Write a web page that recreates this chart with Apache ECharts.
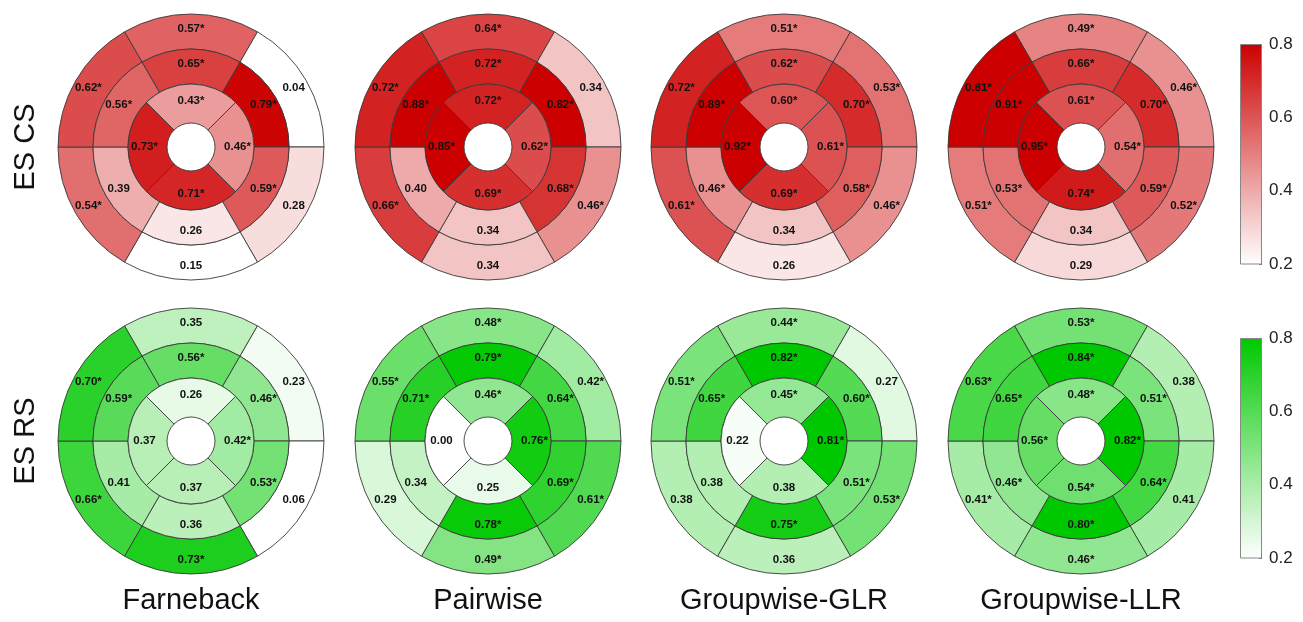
<!DOCTYPE html>
<html>
<head>
<meta charset="utf-8">
<script src="https://cdn.jsdelivr.net/npm/echarts@6/dist/echarts.min.js"></script>
<style>
  html, body { margin: 0; padding: 0; background: #fff; }
  #chart { width: 1303px; height: 622px; }
</style>
</head>
<body>
<div id="chart"></div>
<script>
// Bullseye maps: 16 segments each.
// Order: basal ring (6, clockwise from top), mid ring (6, clockwise from top),
// apical ring (4: top, right, bottom, left).
const methods = ['Farneback', 'Pairwise', 'Groupwise-GLR', 'Groupwise-LLR'];
const rowNames = ['ES CS', 'ES RS'];
const colorTicks = [0.2, 0.4, 0.6, 0.8];

const csFarneback = [0.57, 0.04, 0.28, 0.15, 0.54, 0.62,  0.65, 0.79, 0.59, 0.26, 0.39, 0.56,  0.43, 0.46, 0.71, 0.73];
const csPairwise  = [0.64, 0.34, 0.46, 0.34, 0.66, 0.72,  0.72, 0.82, 0.68, 0.34, 0.40, 0.88,  0.72, 0.62, 0.69, 0.85];
const csGLR       = [0.51, 0.53, 0.46, 0.26, 0.61, 0.72,  0.62, 0.70, 0.58, 0.34, 0.46, 0.89,  0.60, 0.61, 0.69, 0.92];
const csLLR       = [0.49, 0.46, 0.52, 0.29, 0.51, 0.81,  0.66, 0.70, 0.59, 0.34, 0.53, 0.91,  0.61, 0.54, 0.74, 0.95];

const rsFarneback = [0.35, 0.23, 0.06, 0.73, 0.66, 0.70,  0.56, 0.46, 0.53, 0.36, 0.41, 0.59,  0.26, 0.42, 0.37, 0.37];
const rsPairwise  = [0.48, 0.42, 0.61, 0.49, 0.29, 0.55,  0.79, 0.64, 0.69, 0.78, 0.34, 0.71,  0.46, 0.76, 0.25, 0.00];
const rsGLR       = [0.44, 0.27, 0.53, 0.36, 0.38, 0.51,  0.82, 0.60, 0.51, 0.75, 0.38, 0.65,  0.45, 0.81, 0.38, 0.22];
const rsLLR       = [0.53, 0.38, 0.41, 0.46, 0.41, 0.63,  0.84, 0.51, 0.64, 0.80, 0.46, 0.65,  0.48, 0.82, 0.54, 0.56];

// 1 = statistically significant (drawn with an asterisk)
const csFarnebackSig = [1, 0, 0, 0, 1, 1,  1, 1, 1, 0, 0, 1,  1, 1, 1, 1];
const csPairwiseSig  = [1, 0, 1, 0, 1, 1,  1, 1, 1, 0, 0, 1,  1, 1, 1, 1];
const csGLRSig       = [1, 1, 1, 0, 1, 1,  1, 1, 1, 0, 1, 1,  1, 1, 1, 1];
const csLLRSig       = [1, 1, 1, 0, 1, 1,  1, 1, 1, 0, 1, 1,  1, 1, 1, 1];

const rsFarnebackSig = [0, 0, 0, 1, 1, 1,  1, 1, 1, 0, 0, 1,  0, 1, 0, 0];
const rsPairwiseSig  = [1, 1, 1, 1, 0, 1,  1, 1, 1, 1, 0, 1,  1, 1, 0, 0];
const rsGLRSig       = [1, 0, 1, 0, 0, 1,  1, 1, 1, 1, 0, 1,  1, 1, 0, 0];
const rsLLRSig       = [1, 0, 0, 1, 1, 1,  1, 1, 1, 1, 1, 1,  1, 1, 1, 1];

const rows = [
  { values: [csFarneback, csPairwise, csGLR, csLLR],
    sig: [csFarnebackSig, csPairwiseSig, csGLRSig, csLLRSig],
    top: [204, 0, 0] },
  { values: [rsFarneback, rsPairwise, rsGLR, rsLLR],
    sig: [rsFarnebackSig, rsPairwiseSig, rsGLRSig, rsLLRSig],
    top: [0, 200, 0] }
];

// layout
const centersX = [191, 488, 784, 1081];
const centersY = [147, 441];
const R = [24, 63, 98, 133];          // hole, apical, mid, basal edges
const cMin = 0.2, cMax = 0.8;
const lineColor = '#3a3a3a';
const font = 'Liberation Sans, Arial, sans-serif';

function shade(v, top) {
  const t = Math.max(0, Math.min(1, (v - cMin) / (cMax - cMin)));
  const c = top.map(k => Math.round(255 + (k - 255) * t));
  return 'rgb(' + c.join(',') + ')';
}

function ring(cx, cy, r0, r1, startAngle, vals, sig, top) {
  return {
    type: 'pie',
    center: [cx, cy],
    radius: [r0, r1],
    startAngle: startAngle,
    clockwise: true,
    silent: true,
    avoidLabelOverlap: false,
    minShowLabelAngle: 0,
    emphasis: { disabled: true },
    labelLine: { show: false },
    label: {
      show: true,
      position: 'inside',
      fontFamily: font,
      fontSize: 11.5,
      fontWeight: 'bold',
      color: '#111',
      formatter: p => p.data.label
    },
    itemStyle: { borderColor: lineColor, borderWidth: 0.9 },
    data: vals.map((v, i) => ({
      value: 1,
      label: v.toFixed(2) + (sig[i] ? '*' : ''),
      itemStyle: { color: shade(v, top) }
    }))
  };
}

const series = [];
rows.forEach((row, ri) => {
  row.values.forEach((vals, mi) => {
    const cx = centersX[mi], cy = centersY[ri], sg = row.sig[mi];
    series.push(ring(cx, cy, R[2], R[3], 120, vals.slice(0, 6), sg.slice(0, 6), row.top));
    series.push(ring(cx, cy, R[1], R[2], 120, vals.slice(6, 12), sg.slice(6, 12), row.top));
    series.push(ring(cx, cy, R[0], R[1], 135, vals.slice(12, 16), sg.slice(12, 16), row.top));
  });
});

// colour bars: one gradient bar on a value axis per row
const barTops = [44, 338];
const barH = 220;
const grids = [], xAxes = [], yAxes = [];
rows.forEach((row, ri) => {
  grids.push({ left: 1240, top: barTops[ri], width: 22, height: barH });
  xAxes.push({ type: 'category', gridIndex: ri, data: ['c'], show: false });
  yAxes.push({
    type: 'value', gridIndex: ri, position: 'right',
    min: colorTicks[0], max: colorTicks[colorTicks.length - 1], interval: 0.2,
    axisLine: { show: false },
    axisTick: { show: true, inside: true, length: 3, lineStyle: { color: '#777' } },
    splitLine: { show: false },
    axisLabel: {
      margin: 7, fontSize: 17, color: '#222', fontFamily: font,
      formatter: v => v.toFixed(1)
    }
  });
  const c = 'rgb(' + row.top.join(',') + ')';
  series.push({
    type: 'bar', xAxisIndex: ri, yAxisIndex: ri, silent: true,
    barWidth: '100%',
    data: [colorTicks[colorTicks.length - 1]],
    itemStyle: {
      borderColor: '#888', borderWidth: 1,
      color: new echarts.graphic.LinearGradient(0, 0, 0, 1, [
        { offset: 0, color: c }, { offset: 1, color: '#ffffff' }
      ])
    }
  });
});

const graphics = [];
rowNames.forEach((name, ri) => {
  graphics.push({
    type: 'text', x: 26, y: centersY[ri], rotation: Math.PI / 2,
    style: {
      text: name, fill: '#111', fontSize: 29, fontFamily: font,
      align: 'center', verticalAlign: 'middle'
    }
  });
});
methods.forEach((name, mi) => {
  graphics.push({
    type: 'text', x: centersX[mi], y: 601,
    style: {
      text: name, fill: '#111', fontSize: 29, fontFamily: font,
      align: 'center', verticalAlign: 'middle'
    }
  });
});

const chart = echarts.init(document.getElementById('chart'), null, { renderer: 'canvas' });
chart.setOption({
  animation: false,
  backgroundColor: '#ffffff',
  grid: grids,
  xAxis: xAxes,
  yAxis: yAxes,
  series: series,
  graphic: graphics
});
</script>
</body>
</html>
